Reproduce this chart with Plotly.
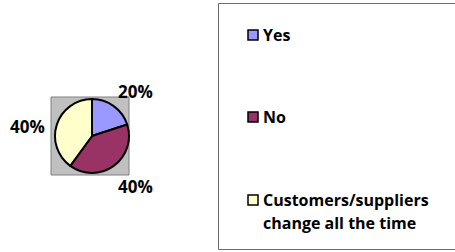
import plotly.graph_objects as go

categories = ["Yes", "No", "Customers/suppliers<br>change all the time"]
values = [20, 40, 40]
colors = ["#9999FF", "#993366", "#FFFFCC"]
pct_labels = ["20%", "40%", "40%"]

W, H = 455, 252


def fx(px):
    return px / W


def fy(py):
    return 1 - py / H


fig = go.Figure()
fig.add_trace(go.Pie(
    labels=categories,
    values=values,
    sort=False,
    direction="clockwise",
    rotation=0,
    marker=dict(colors=colors, line=dict(color="black", width=2)),
    textinfo="none",
    hoverinfo="label+percent",
    showlegend=False,
    domain=dict(x=[fx(55), fx(129)], y=[fy(173), fy(99)]),
))

shapes = [
    dict(type="rect", xref="paper", yref="paper",
         x0=fx(51), x1=fx(129), y0=fy(175), y1=fy(97),
         fillcolor="#C0C0C0", line=dict(color="#808080", width=1), layer="below"),
    dict(type="rect", xref="paper", yref="paper",
         x0=fx(218.5), x1=fx(470), y0=fy(249.5), y1=fy(3.5),
         fillcolor="rgba(0,0,0,0)", line=dict(color="#6b6b6b", width=1)),
]

font = dict(family="Open Sans, sans-serif", size=16, color="black")
bold_font = dict(family="Open Sans, sans-serif", size=17, color="black")

annotations = []
# percentage labels
pct_pos = [(135, 91), (135, 186), (27, 126)]
for lab, (x, y) in zip(pct_labels, pct_pos):
    annotations.append(dict(x=fx(x), y=fy(y), xref="paper", yref="paper",
                            text="<b>%s</b>" % lab, showarrow=False,
                            font=bold_font, xanchor="center", yanchor="middle"))

# legend
leg_y = [35, 117, 200]
for cat, col, y in zip(categories, colors, leg_y):
    shapes.append(dict(type="rect", xref="paper", yref="paper",
                       x0=fx(248), x1=fx(258), y0=fy(y + 5), y1=fy(y - 5),
                       fillcolor=col, line=dict(color="black", width=1.5)))
    lines = cat.split("<br>")
    for i, ln in enumerate(lines):
        annotations.append(dict(x=fx(261), y=fy(y + i * 23),
                                xref="paper", yref="paper",
                                text="<b>%s</b>" % ln, showarrow=False, font=font,
                                xanchor="left", yanchor="middle"))

fig.update_layout(
    width=W, height=H,
    margin=dict(l=0, r=0, t=0, b=0),
    paper_bgcolor="white", plot_bgcolor="white",
    shapes=shapes, annotations=annotations,
)

fig.write_html("out.html",
               config={"displayModeBar": False},
               post_script="document.body.style.margin='0';document.body.style.overflow='hidden';")
